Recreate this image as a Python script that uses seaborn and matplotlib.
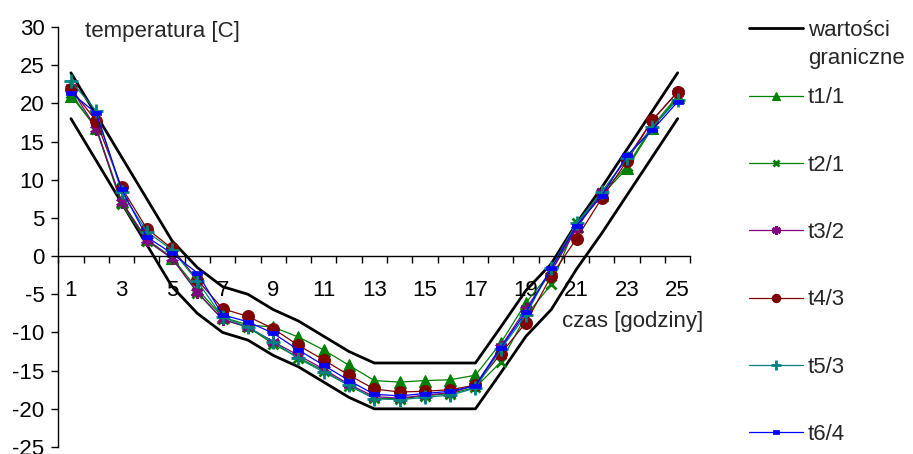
import matplotlib
matplotlib.use("Agg")
import matplotlib.pyplot as plt
import seaborn as sns
from matplotlib.ticker import MultipleLocator, FixedLocator, FuncFormatter

# godziny 1..25
hours = list(range(1, 26))

# wartości graniczne (górna i dolna)
upper = [24, 18.5, 13, 7.5, 2, -1.5, -4, -5, -7, -8.5, -10.5, -12.5, -14, -14, -14,
         -14, -14, -9.3, -4.5, -1, 4.3, 9, 14, 19, 24]
lower = [18, 12.5, 7, 1.5, -4, -7.5, -10, -11, -13, -14.5, -16.5, -18.5, -20, -20, -20,
         -20, -20, -15.3, -10.5, -7, -1.7, 3, 8, 13, 18]

t1_1 = [21.0, 16.8, 7.2, 2.2, -0.2, -4.3, -8.0, -9.0, -9.3, -10.6, -12.3, -14.3, -16.3,
        -16.5, -16.3, -16.2, -15.6, -11.4, -6.1, -2.0, 4.0, 8.0, 11.5, 16.8, 20.8]
t2_1 = [21.3, 16.7, 6.8, 2.0, -0.3, -4.8, -8.3, -9.3, -11.5, -13.3, -15.0, -17.0, -18.6,
        -18.7, -18.3, -18.0, -17.2, -13.9, -7.8, -3.7, 4.3, 8.3, 11.8, 17.0, 21.0]
t3_2 = [22.0, 16.7, 7.1, 2.1, -0.3, -4.7, -8.3, -9.3, -11.2, -13.0, -14.8, -16.8, -18.4,
        -18.6, -18.2, -17.9, -16.9, -11.9, -6.9, -2.0, 3.6, 8.4, 12.8, 17.8, 21.5]
t4_3 = [21.9, 17.7, 9.0, 3.6, 1.0, -3.1, -6.9, -7.9, -9.5, -11.7, -13.6, -15.6, -17.4,
        -17.8, -17.7, -17.5, -16.9, -12.8, -8.7, -2.6, 2.3, 7.6, 12.5, 17.8, 21.5]
t5_3 = [22.9, 19.0, 8.4, 3.2, 0.8, -3.3, -8.0, -9.3, -11.2, -13.4, -15.2, -16.9, -18.7,
        -18.8, -18.5, -18.2, -17.3, -12.2, -7.7, -1.5, 4.3, 8.4, 12.9, 16.9, 20.5]
t6_4 = [21.4, 18.7, 8.8, 2.5, 0.35, -2.2, -7.7, -8.6, -10.1, -12.3, -14.3, -16.3, -18.1,
        -18.3, -18.0, -17.7, -17.0, -12.0, -7.3, -1.6, 4.0, 7.9, 13.2, 16.5, 20.2]

series_names = ["t1/1", "t2/1", "t3/2", "t4/3", "t5/3", "t6/4"]
series_values = [t1_1, t2_1, t3_2, t4_3, t5_3, t6_4]

dash_marker = [(-1, -0.45), (1, -0.45), (1, 0.45), (-1, 0.45), (-1, -0.45)]
styles = {
    "t1/1": dict(color="#008000", marker="^", ms=8.5, mew=0.8),
    "t2/1": dict(color="#008000", marker="x", ms=7, mew=2.0),
    "t3/2": dict(color="#800080", marker=(6, 2, 0), ms=9, mew=2.0),
    "t4/3": dict(color="#800000", marker="o", ms=8.5, mew=0.8),
    "t5/3": dict(color="#008080", marker="+", ms=9.5, mew=2.0),
    "t6/4": dict(color="#0000FF", marker=dash_marker, ms=7, mew=0.5),
}

sns.set_style("white")
plt.rcParams["font.family"] = ["Liberation Sans", "DejaVu Sans"]
plt.rcParams["axes.unicode_minus"] = False
plt.rcParams["xtick.bottom"] = True
plt.rcParams["ytick.left"] = True
FS = 16

fig = plt.figure(figsize=(9.13, 4.54), dpi=100)
ax = fig.add_axes([58.3 / 913, 1 - 447 / 454, 632 / 913, 420 / 454])

sns.lineplot(x=hours, y=upper, color="black", linewidth=2.0, label="wartości", ax=ax)
sns.lineplot(x=hours, y=lower, color="black", linewidth=2.0, label="_nolegend_", ax=ax)

for name, vals in zip(series_names, series_values):
    st = styles[name]
    sns.lineplot(x=hours, y=vals, color=st["color"], linewidth=0.9,
                 marker=st["marker"], markersize=st["ms"],
                 markeredgecolor=st["color"], markerfacecolor=st["color"],
                 markeredgewidth=st["mew"], label=name, ax=ax)

ax.set_xlim(0.5, 25.5)
ax.set_ylim(-25, 30)

# osie jak w Excelu
for s in ["top", "right"]:
    ax.spines[s].set_visible(False)
ax.spines["bottom"].set_position(("data", 0))
for s in ["left", "bottom"]:
    ax.spines[s].set_color("black")
    ax.spines[s].set_linewidth(1.0)

# kreski na granicach kategorii, opisy co druga kategoria
xlocs = [i / 2 for i in range(1, 52)]
ax.xaxis.set_major_locator(FixedLocator(xlocs))
ax.xaxis.set_major_formatter(FuncFormatter(
    lambda v, p: str(int(v)) if v % 1 == 0 and int(v) % 2 == 1 else ""))
ax.tick_params(axis="x", which="major", bottom=True, length=5, width=1, direction="out",
               pad=12, labelsize=FS, colors="black")
ax.yaxis.set_major_locator(MultipleLocator(5))
ax.tick_params(axis="y", which="major", left=True, length=5, width=1, direction="out",
               pad=5, labelsize=FS, colors="black")
ax.grid(False)

ax.set_ylabel("temperatura [C]", rotation=0, ha="left", va="center", fontsize=FS)
ax.yaxis.set_label_coords(0.042, 0.99)
ax.set_xlabel("czas [godziny]", ha="left", va="center", fontsize=FS)
ax.xaxis.set_label_coords(0.797, 0.298)

handles, labels = ax.get_legend_handles_labels()
leg = ax.legend(handles, labels, loc="upper left",
                bbox_to_anchor=(749 / 913, 1 - 20 / 454), bbox_transform=fig.transFigure,
                frameon=False, fontsize=FS, handlelength=2.43, handletextpad=0.23,
                labelspacing=2.085, borderpad=0, borderaxespad=0, markerscale=0.7)
leg.set_zorder(5)
ax.annotate("graniczne", xy=(0, 0), xycoords=leg.texts[0], xytext=(0, -5),
            textcoords="offset points", ha="left", va="top", fontsize=FS,
            annotation_clip=False, zorder=6)

fig.canvas.draw()
# kreski tylko między kategoriami
for tick, loc in zip(ax.xaxis.get_major_ticks(), ax.xaxis.get_majorticklocs()):
    tick.tick1line.set_visible(loc % 1 != 0)
    tick.tick1line.set_color("black")
for tick in ax.yaxis.get_major_ticks():
    tick.tick1line.set_visible(True)
    tick.tick1line.set_color("black")

fig.savefig("out.png", dpi=100)
